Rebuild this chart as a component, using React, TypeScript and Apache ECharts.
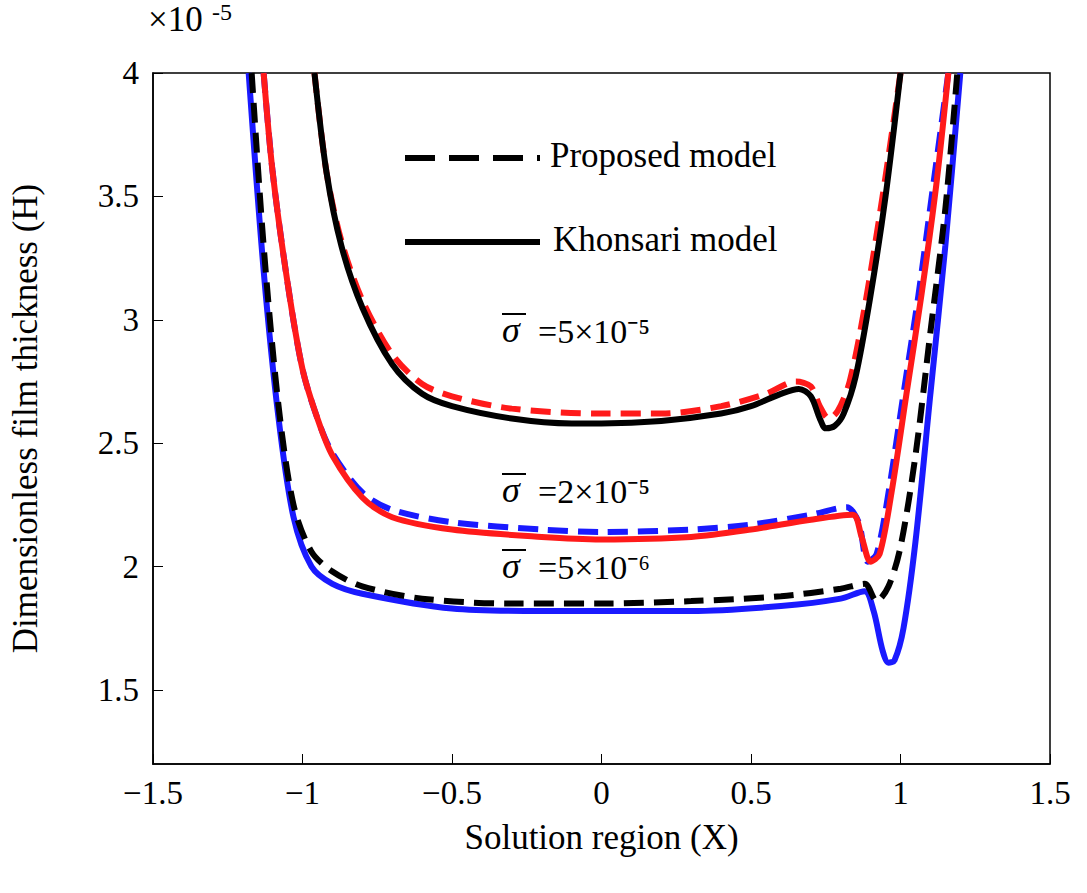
import React, { useEffect, useRef } from "react";
import * as echarts from "echarts";

const xTicks = [-1.5, -1, -0.5, 0, 0.5, 1, 1.5];
const yTicks = [1.5, 2, 2.5, 3, 3.5, 4];
// values in units of 1e-5
const propLow: number[][] = [[-1.17,4],[-1.13,3.3],[-1.08,2.65],[-1.03,2.25],[-0.97,2.06],[-0.9,1.98],[-0.8,1.92],[-0.6,1.87],[-0.3,1.85],[0,1.85],[0.3,1.86],[0.6,1.88],[0.8,1.91],[0.88,1.93],[0.92,1.86],[0.96,1.92],[1.0,2.08],[1.05,2.45],[1.1,2.95],[1.15,3.45],[1.19,4]];
const khonLow: number[][] = [[-1.18,4],[-1.13,3.2],[-1.08,2.6],[-1.03,2.2],[-0.97,2.0],[-0.9,1.93],[-0.8,1.89],[-0.5,1.83],[-0.2,1.82],[0,1.82],[0.3,1.82],[0.6,1.84],[0.8,1.87],[0.88,1.9],[0.91,1.82],[0.94,1.66],[0.96,1.61],[0.98,1.62],[1.01,1.75],[1.05,2.1],[1.1,2.7],[1.15,3.3],[1.2,4]];
const khonMid: number[][] = [[-1.13,4],[-1.1,3.6],[-1.05,3.15],[-1.0,2.8],[-0.95,2.6],[-0.9,2.45],[-0.8,2.28],[-0.7,2.2],[-0.5,2.15],[-0.2,2.12],[0,2.11],[0.3,2.12],[0.5,2.15],[0.7,2.19],[0.84,2.21],[0.87,2.12],[0.9,2.02],[0.93,2.05],[0.97,2.3],[1.02,2.7],[1.07,3.1],[1.12,3.55],[1.16,4]];
const propMid: number[][] = [[-1.13,4],[-1.1,3.6],[-1.05,3.15],[-1.0,2.8],[-0.95,2.6],[-0.9,2.46],[-0.8,2.3],[-0.7,2.23],[-0.5,2.18],[-0.2,2.15],[0,2.14],[0.3,2.15],[0.5,2.17],[0.7,2.21],[0.82,2.24],[0.86,2.18],[0.89,2.02],[0.92,2.05],[0.96,2.3],[1.01,2.7],[1.06,3.1],[1.11,3.55],[1.16,4]];
const khonHigh: number[][] = [[-0.96,4],[-0.92,3.6],[-0.87,3.3],[-0.8,3.05],[-0.7,2.82],[-0.6,2.7],[-0.5,2.65],[-0.3,2.6],[-0.1,2.58],[0,2.58],[0.2,2.59],[0.4,2.62],[0.5,2.65],[0.6,2.7],[0.66,2.72],[0.7,2.69],[0.73,2.6],[0.75,2.56],[0.78,2.57],[0.81,2.62],[0.85,2.77],[0.9,3.1],[0.95,3.5],[1.0,4]];
const propHigh: number[][] = [[-0.96,4],[-0.92,3.6],[-0.87,3.32],[-0.8,3.08],[-0.7,2.86],[-0.6,2.74],[-0.5,2.69],[-0.3,2.64],[0,2.62],[0.2,2.62],[0.4,2.65],[0.55,2.7],[0.65,2.75],[0.7,2.73],[0.73,2.65],[0.76,2.6],[0.79,2.63],[0.83,2.75],[0.88,3.05],[0.94,3.5],[1.0,4]];
const labels: [number, string][] = [[334, "=5×10⁻⁵"], [494, "=2×10⁻⁵"], [570, "=5×10⁻⁶"]];

const DASH = [20, 10];

export default function App() {
  const ref = useRef<HTMLDivElement>(null);
  useEffect(() => {
    document.body.style.margin = "0";
    const chart = echarts.init(ref.current!, null, { renderer: "svg" });
    const font = "Liberation Serif";
    const line = (data: number[][], color: string, dashed: boolean, z: number) => ({
      type: "line", data, showSymbol: false, smooth: 0.3, z,
      lineStyle: { color, width: 6, type: dashed ? DASH : "solid" },
    });
    chart.setOption({
      animation: false,
      textStyle: { fontFamily: font },
      grid: { left: 145, right: 37, top: 73, bottom: 129, show: true, borderColor: "#000", borderWidth: 1.5 },
      xAxis: {
        type: "value", min: -1.5, max: 1.5, interval: 0.5,
        name: "Solution region (X)", nameLocation: "middle", nameGap: 56,
        nameTextStyle: { fontSize: 35, color: "#000", fontFamily: font },
        axisLine: { onZero: false, lineStyle: { color: "#000", width: 1.5 } },
        axisTick: { inside: true, length: 10, lineStyle: { color: "#000" } },
        axisLabel: { fontSize: 33, color: "#000", margin: 12, formatter: (v: number) => String(v).replace("-", "\u2212") },
        splitLine: { show: false },
      },
      yAxis: {
        type: "value", min: 1.2, max: 4, interval: 0.5,
        name: "Dimensionless film thickness (H)", nameLocation: "middle", nameGap: 110,
        nameTextStyle: { fontSize: 35, color: "#000", fontFamily: font },
        axisLine: { onZero: false, lineStyle: { color: "#000", width: 1.5 } },
        axisTick: { inside: true, length: 10, lineStyle: { color: "#000" }, customValues: yTicks },
        axisLabel: { fontSize: 33, color: "#000", margin: 14, customValues: yTicks },
        splitLine: { show: false },
      },
      series: [
        line(khonLow, "#1a1aff", false, 2),
        line(propLow, "#000", true, 3),
        line(khonMid, "#ff1a1a", false, 4),
        line(propMid, "#1a1aff", true, 3),
        line(propHigh, "#ff1a1a", true, 4),
        line(khonHigh, "#000", false, 5),
      ],
      graphic: [
        { type: "text", left: 148, top: 2, style: { text: "×10", font: `35px ${font}`, fill: "#000" } },
        { type: "text", left: 212, top: 0, style: { text: "-5", font: `24px ${font}`, fill: "#000" } },
        { type: "line", shape: { x1: 405, y1: 158, x2: 540, y2: 158 }, style: { stroke: "#000", lineWidth: 6, lineDash: [30, 14] } },
        { type: "text", left: 550, top: 138, style: { text: "Proposed model", font: `35px ${font}`, fill: "#000" } },
        { type: "line", shape: { x1: 405, y1: 242, x2: 540, y2: 242 }, style: { stroke: "#000", lineWidth: 6 } },
        { type: "text", left: 553, top: 222, style: { text: "Khonsari model", font: `35px ${font}`, fill: "#000" } },
        ...labels.map(([y, t]) => ({
          type: "group", children: [
            { type: "text", x: 502, y: y - 22, style: { text: "σ", font: `italic 36px ${font}`, fill: "#000" } },
            { type: "line", shape: { x1: 502, y1: y - 20, x2: 526, y2: y - 20 }, style: { stroke: "#000", lineWidth: 2 } },
            { type: "text", x: 538, y: y - 20, style: { text: t, font: `34px ${font}`, fill: "#000" } },
          ],
        })),
      ],
    });
    return () => chart.dispose();
  }, []);
  return <div ref={ref} style={{ width: 1087, height: 893 }} />;
}
